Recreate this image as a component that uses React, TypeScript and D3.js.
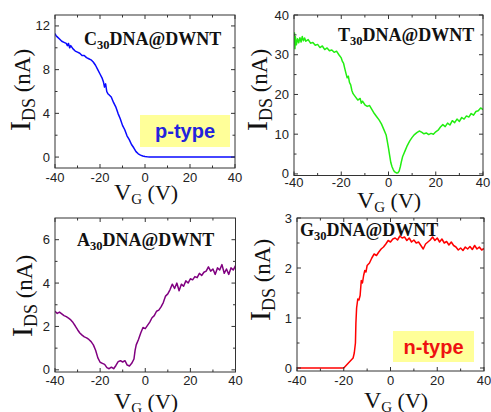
import React from 'react';
import * as d3 from 'd3';

// ---------- data ----------
const xTicks = [-40, -20, 0, 20, 40];
const xMinor = [-30, -10, 10, 30];

// C30DNA@DWNT (p-type)
const c30V = [-40, -39.5, -39, -38, -37, -36, -35, -34.5, -34, -33.5,
  -33, -32, -31, -30, -29, -28, -27, -26, -25, -24,
  -23, -22, -21, -20, -19, -18.5, -18, -17.5, -17, -16.5,
  -16, -15, -14, -13, -12, -11, -10, -9, -8, -7,
  -6, -5, -4, -3, -2, -1, 0, 1, 2, 5,
  10, 20, 30, 40];
const c30I = [11.3, 11.1, 11.0, 10.8, 10.6, 10.5, 10.4, 10.2, 10.4, 10.0,
  10.2, 9.9, 9.7, 9.6, 9.5, 9.3, 9.3, 9.1, 9.0, 8.9,
  8.7, 8.4, 8.0, 7.6, 7.2, 6.9, 6.4, 6.7, 6.0, 5.8,
  5.7, 5.5, 5.0, 4.6, 4.0, 3.5, 2.9, 2.5, 1.95, 1.6,
  1.15, 0.85, 0.5, 0.3, 0.18, 0.1, 0.05, 0.02, 0.0, 0.0,
  0.0, 0.01, 0.0, 0.0];
const c30Ticks = [0, 4, 8, 12];
const c30Minor = [2, 6, 10];

// T30DNA@DWNT
const t30V = [-40, -39.8, -39.6, -39.4, -39, -38.5, -38, -37.5, -37, -36.5,
  -36, -35.5, -35, -34, -33, -32, -31, -30, -29, -28,
  -27, -26, -25, -24, -23, -22, -21, -20, -19.5, -19,
  -18.5, -18, -17.5, -17, -16.5, -16, -15.5, -15, -14, -13,
  -12, -11.5, -11, -10, -9, -8, -7, -6, -5, -4,
  -3, -2, -1, -0.5, 0, 0.5, 1, 1.5, 2, 2.5,
  3, 3.5, 4, 4.5, 5, 5.5, 6, 7, 8, 9,
  10, 11, 12, 13, 14, 15, 16, 17, 18, 19,
  20, 21, 22, 23, 24, 25, 26, 27, 28, 29,
  30, 31, 32, 33, 34, 35, 36, 37, 38, 39,
  40];
const t30I = [33, 35.5, 31.5, 34.5, 32.5, 34, 33, 34.3, 33.2, 34.6,
  33.5, 34.2, 33.4, 33.8, 32.9, 33.1, 32.4, 32.6, 31.8, 32.2,
  31.3, 31.7, 31.0, 31.2, 30.6, 30.9, 30.0, 29.2, 28.3, 27.8,
  26.5, 25.3, 24.2, 24.6, 23.0, 22.4, 21.0, 20.2, 19.4, 18.6,
  19.0, 17.8, 18.3, 17.4, 17.0, 17.2, 16.2, 15.2, 14.4, 13.6,
  12.6, 11.2, 9.8, 8.2, 6.5, 4.6, 2.8, 1.8, 1.1, 0.6,
  0.4, 0.2, 0.3, 0.7, 1.8, 3.2, 4.4, 5.8, 7.2, 8.3,
  9.2, 9.9, 10.4, 10.8, 10.5, 10.1, 10.3, 9.9, 10.2, 10.0,
  10.6, 11.0, 11.8, 12.4, 11.9, 12.8, 12.3, 13.4, 12.9, 13.8,
  13.2, 14.2, 13.8, 14.6, 14.3, 15.2, 14.8, 15.7, 15.9, 16.6,
  16.2];
const t30Ticks = [0, 10, 20, 30, 40];
const t30Minor = [5, 15, 25, 35];

// A30DNA@DWNT
const a30V = [-40, -39, -38, -37, -36, -35, -34, -33, -32, -31,
  -30, -29, -28, -27, -26, -25, -24, -23, -22, -21,
  -20, -19, -18, -17, -16, -15, -14, -13, -12, -11,
  -10, -9, -8, -7, -6, -5, -4.5, -4, -3, -2,
  -1, 0, 1, 2, 3, 4, 5, 6, 7, 8,
  9, 10, 11, 12, 13, 14, 15, 16, 17, 18,
  19, 20, 21, 22, 23, 24, 25, 26, 27, 28,
  29, 30, 31, 32, 33, 34, 35, 36, 37, 38,
  39, 40];
const a30I = [2.7, 2.6, 2.66, 2.58, 2.5, 2.45, 2.38, 2.3, 2.18, 2.02,
  1.85, 1.7, 1.6, 1.52, 1.47, 1.4, 1.3, 1.15, 0.9, 0.55,
  0.35, 0.3, 0.25, 0.1, 0.05, 0.12, 0.05, 0.2, 0.38, 0.42,
  0.36, 0.42, 0.22, 0.18, 0.3, 0.5, 0.9, 1.15, 1.4, 1.7,
  1.95, 1.9, 2.05, 2.2, 2.4, 2.5, 2.7, 2.75, 2.9, 3.1,
  3.4, 3.5, 3.7, 3.95, 3.75, 4.0, 3.65, 3.95, 3.85, 4.1,
  4.0, 4.2, 4.15, 4.3, 4.25, 4.45, 4.35, 4.5, 4.55, 4.75,
  4.55, 4.65, 4.4, 4.7, 4.6, 4.85, 4.45, 4.65, 4.4, 4.7,
  4.6, 4.8];
const a30Ticks = [0, 2, 4, 6];
const a30Minor = [1, 3, 5];

// G30DNA@DWNT (n-type)
const g30V = [-40, -30, -20, -19, -18, -17, -16, -15.5, -15, -14.8,
  -14.5, -14, -13.5, -13, -12.5, -12, -11.5, -11, -10.5, -10,
  -9, -8, -7, -6, -5, -4, -3, -2, -1, 0,
  1, 2, 3, 4, 5, 6, 7, 8, 9, 10,
  11, 12, 13, 14, 15, 16, 17, 18, 19, 20,
  21, 22, 23, 24, 25, 26, 27, 28, 29, 30,
  31, 32, 33, 34, 35, 36, 37, 38, 39, 40];
const g30I = [0, 0, 0, 0.05, 0.1, 0.15, 0.2, 0.3, 0.5, 0.9,
  1.2, 1.38, 1.36, 1.45, 1.75, 1.7, 1.85, 1.95, 1.92, 2.05,
  2.1, 2.2, 2.28, 2.25, 2.32, 2.38, 2.42, 2.48, 2.55, 2.52,
  2.58, 2.6, 2.56, 2.64, 2.6, 2.62, 2.55, 2.6, 2.52, 2.56,
  2.5, 2.52, 2.45, 2.38, 2.48, 2.52, 2.56, 2.62, 2.55, 2.6,
  2.52, 2.58, 2.5, 2.53, 2.46, 2.52, 2.45, 2.42, 2.36, 2.4,
  2.35, 2.42, 2.38, 2.43, 2.37, 2.45, 2.38, 2.42, 2.36, 2.39];
const g30Ticks = [0, 1, 2, 3];
const g30Minor = [0.5, 1.5, 2.5];

// ---------- layout ----------
type Panel = {
  left: number; right: number; top: number; bottom: number;
  yDomain: [number, number]; yTicks: number[]; yMinor: number[];
  xs: number[]; ys: number[]; color: string; letter: string;
  titleX: number; titleY: number;
  yTitleX: number; yTitleCY: number;
  xTitleCX: number; xTitleY: number; xLabelDY: number;
  badge?: { x: number; y: number; w: number; h: number; text: string; color: string };
};

const panels: Panel[] = [
  {
    left: 55, right: 235, top: 15, bottom: 168, yDomain: [-1, 13], yTicks: c30Ticks, yMinor: c30Minor,
    xs: c30V, ys: c30I, color: '#0a0aff', letter: 'C', titleX: 84, titleY: 45,
    yTitleX: 30, yTitleCY: 90, xTitleCX: 146, xTitleY: 200, xLabelDY: 14,
    badge: { x: 140, y: 115, w: 90, h: 32, text: 'p-type', color: '#2222dd' },
  },
  {
    left: 294, right: 483, top: 15, bottom: 175.5, yDomain: [-0.4, 40], yTicks: t30Ticks, yMinor: t30Minor,
    xs: t30V, ys: t30I, color: '#22ee11', letter: 'T', titleX: 338, titleY: 41,
    yTitleX: 267, yTitleCY: 90, xTitleCX: 389, xTitleY: 208, xLabelDY: 11,
  },
  {
    left: 55, right: 235.5, top: 218, bottom: 372, yDomain: [-0.1, 7], yTicks: a30Ticks, yMinor: a30Minor,
    xs: a30V, ys: a30I, color: '#800080', letter: 'A', titleX: 77, titleY: 246,
    yTitleX: 32, yTitleCY: 296, xTitleCX: 146, xTitleY: 409, xLabelDY: 13,
  },
  {
    left: 297, right: 484, top: 218, bottom: 371, yDomain: [-0.06, 3], yTicks: g30Ticks, yMinor: g30Minor,
    xs: g30V, ys: g30I, color: '#ff0000', letter: 'G', titleX: 300, titleY: 236,
    yTitleX: 270, yTitleCY: 280, xTitleCX: 396, xTitleY: 408, xLabelDY: 14,
    badge: { x: 393, y: 331, w: 81, h: 31, text: 'n-type', color: '#ee1111' },
  },
];

const SERIF = '"Liberation Serif", "Times New Roman", serif';
const SANS = '"Liberation Sans", Arial, sans-serif';
const AXIS = '#333';

function PanelView({ p, idx }: { p: Panel; idx: number }) {
  const x = d3.scaleLinear().domain([-40, 40]).range([p.left, p.right]);
  const y = d3.scaleLinear().domain(p.yDomain).range([p.bottom, p.top]);
  const line = d3.line<number>()
    .x((_, i) => x(p.xs[i]))
    .y((d) => y(d));
  const path = line(p.ys) || '';
  const maj = 4;
  const min = 2.5;
  const clipId = `clip${idx}`;
  return (
    <g>
      <defs>
        <clipPath id={clipId}>
          <rect x={p.left} y={p.top} width={p.right - p.left} height={p.bottom - p.top} />
        </clipPath>
      </defs>
      {p.badge && (
        <g>
          <rect x={p.badge.x} y={p.badge.y} width={p.badge.w} height={p.badge.h} fill="#ffff99" />
          <text x={p.badge.x + p.badge.w / 2} y={p.badge.y + p.badge.h / 2 + 7} textAnchor="middle"
            fontFamily={SANS} fontWeight="bold" fontSize={20} fill={p.badge.color}>{p.badge.text}</text>
        </g>
      )}
      <path d={path} fill="none" stroke={p.color} strokeWidth={1.5} strokeLinejoin="round" clipPath={`url(#${clipId})`} />
      <rect x={p.left} y={p.top} width={p.right - p.left} height={p.bottom - p.top} fill="none" stroke={AXIS} strokeWidth={1} />
      {/* x ticks */}
      {xTicks.map((t) => (
        <g key={`xt${t}`}>
          <line x1={x(t)} x2={x(t)} y1={p.bottom} y2={p.bottom - maj} stroke={AXIS} />
          <line x1={x(t)} x2={x(t)} y1={p.top} y2={p.top + maj} stroke={AXIS} />
          <text x={x(t)} y={p.bottom + p.xLabelDY} textAnchor="middle" fontFamily={SANS} fontSize={13} fill="#222">{t}</text>
        </g>
      ))}
      {xMinor.map((t) => (
        <g key={`xm${t}`}>
          <line x1={x(t)} x2={x(t)} y1={p.bottom} y2={p.bottom - min} stroke={AXIS} />
          <line x1={x(t)} x2={x(t)} y1={p.top} y2={p.top + min} stroke={AXIS} />
        </g>
      ))}
      {/* y ticks */}
      {p.yTicks.map((t) => (
        <g key={`yt${t}`}>
          <line x1={p.left} x2={p.left + maj} y1={y(t)} y2={y(t)} stroke={AXIS} />
          <line x1={p.right} x2={p.right - maj} y1={y(t)} y2={y(t)} stroke={AXIS} />
          <text x={p.left - 5} y={y(t) + 4.5} textAnchor="end" fontFamily={SANS} fontSize={13} fill="#222">{t}</text>
        </g>
      ))}
      {p.yMinor.map((t) => (
        <g key={`ym${t}`}>
          <line x1={p.left} x2={p.left + min} y1={y(t)} y2={y(t)} stroke={AXIS} />
          <line x1={p.right} x2={p.right - min} y1={y(t)} y2={y(t)} stroke={AXIS} />
        </g>
      ))}
      {/* panel title */}
      <text x={p.titleX} y={p.titleY} fontFamily={SERIF} fontWeight="bold" fontSize={18} fill="#111">
        {p.letter}
        <tspan fontSize={12.5} dy={4}>30</tspan>
        <tspan dy={-4}>DNA@DWNT</tspan>
      </text>
      {/* y title */}
      <text transform={`translate(${p.yTitleX},${p.yTitleCY}) rotate(-90)`} textAnchor="middle"
        fontFamily={SERIF} fontSize={23} fill="#111">
        <tspan fontSize={30}>I</tspan>
        <tspan fontSize={18} dy={5}>DS</tspan>
        <tspan dy={-5}> (nA)</tspan>
      </text>
      {/* x title */}
      <text x={p.xTitleCX} y={p.xTitleY} textAnchor="middle" fontFamily={SERIF} fontSize={22} fill="#111">
        <tspan fontSize={24}>V</tspan>
        <tspan fontSize={15} dy={4}>G</tspan>
        <tspan dy={-4}> (V)</tspan>
      </text>
    </g>
  );
}

export default function App() {
  return (
    <svg width={491} height={412} viewBox="0 0 491 412"
      style={{ position: 'absolute', left: 0, top: 0, background: '#fff' }}>
      <rect x={0} y={0} width={491} height={412} fill="#fff" />
      {panels.map((p, i) => <PanelView key={i} p={p} idx={i} />)}
    </svg>
  );
}
